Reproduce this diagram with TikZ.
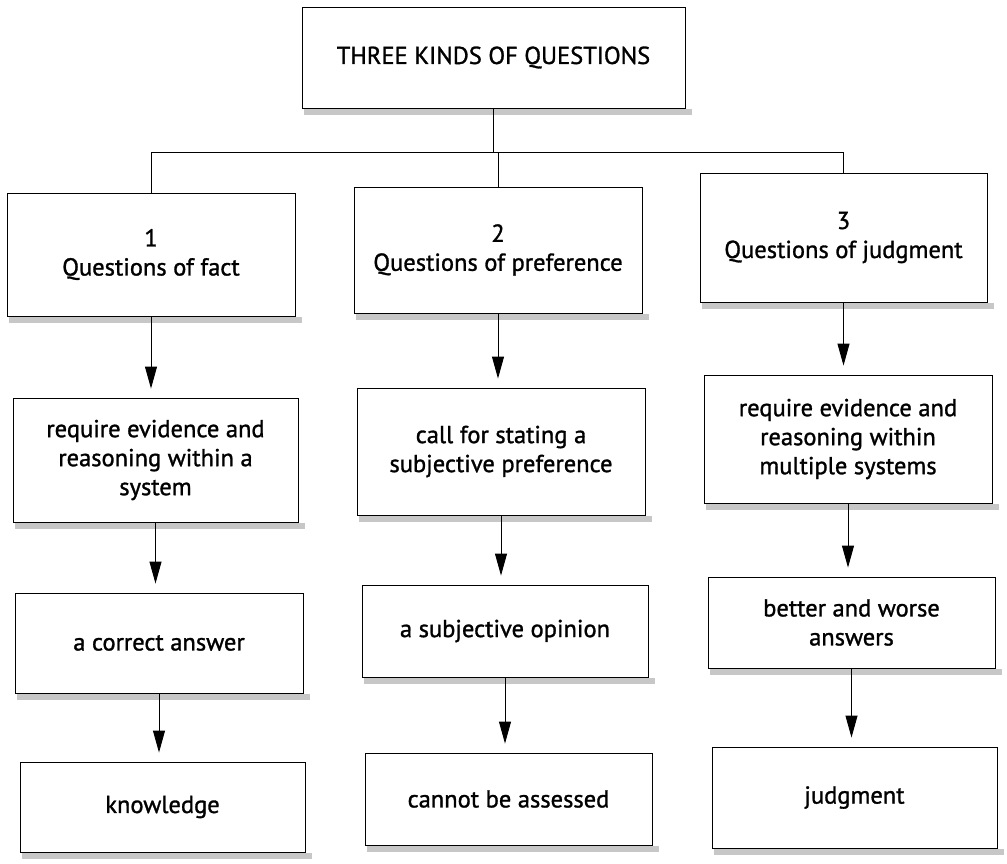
\documentclass[tikz,border=0pt]{standalone}
\usepackage{fontspec}
\setmainfont{PT Sans}[FakeBold=1.2]
\usetikzlibrary{arrows.meta}
\definecolor{shade}{gray}{0.78}
\begin{document}
\begin{tikzpicture}[x=1pt,y=-1pt,
  box/.style={draw=black,line width=0.9pt,fill=white,inner sep=0pt,align=center,
    font=\fontsize{24.5}{29}\selectfont},
  conn/.style={draw=black,line width=0.8pt},
  arr/.style={draw=black,line width=0.9pt,-{Triangle[width=12pt,length=22pt]},shorten >=9pt},
  shadowband/.style={fill=shade}]
\useasboundingbox (0,0) rectangle (1007,863);
\fill[white] (0,0) rectangle (1007,863);

% top box
\node[box,minimum width=383pt,minimum height=101pt,font=\fontsize{24.5}{29}\selectfont] (top) at (493.5,57.5) {THREE KINDS OF QUESTIONS};

% column 1
\node[box,minimum width=288pt,minimum height=123pt] (b11) at (151,254.5) {1\\Questions of fact};
\node[box,minimum width=285pt,minimum height=124pt] (b12) at (155.5,460) {require evidence and\\reasoning within a\\system};
\node[box,minimum width=288pt,minimum height=100pt] (b13) at (159,643) {a correct answer};
\node[box,minimum width=285pt,minimum height=90pt] (b14) at (162.5,807) {knowledge};

% column 2
\node[box,minimum width=288pt,minimum height=126pt] (b21) at (498,250) {2\\Questions of preference};
\node[box,minimum width=288pt,minimum height=127pt] (b22) at (501,451.5) {call for stating a\\subjective preference};
\node[box,minimum width=286pt,minimum height=92pt] (b23) at (505,631) {a subjective opinion};
\node[box,minimum width=287pt,minimum height=92pt] (b24) at (508.5,799) {cannot be assessed};

% column 3
\node[box,minimum width=287pt,minimum height=129pt] (b31) at (843.5,237.5) {3\\Questions of judgment};
\node[box,minimum width=288pt,minimum height=128pt] (b32) at (848,439) {require evidence and\\reasoning within\\multiple systems};
\node[box,minimum width=287pt,minimum height=91pt] (b33) at (851.5,622.5) {better and worse\\answers};
\node[box,minimum width=285pt,minimum height=101pt] (b34) at (854.5,797.5) {judgment};

% shadow bands under the boxes
\foreach \b in {top,b11,b12,b13,b14,b21,b22,b23,b24,b31,b32,b33,b34}{
  \fill[shadowband] ([xshift=2pt,yshift=-1pt]\b.south west) rectangle ([xshift=7pt,yshift=-7pt]\b.south east);
}

% tree connectors
\coordinate (hy) at (0,152);
\coordinate (jM) at (top.south |- hy);
\coordinate (jL) at (b11.north |- hy);
\coordinate (jR) at (b31.north |- hy);
\coordinate (jC) at (b21.north |- hy);
\draw[conn] (top.south) -- (jM);
\draw[conn] (jL) -- (jR);
\draw[conn] (jL) -- (b11.north);
\draw[conn] (jC) -- (b21.north);
\draw[conn] (jR) -- (b31.north);

% arrows
\draw[arr] (b11.south) -- (b11.south |- b12.north);
\draw[arr] (b12.south) -- (b12.south |- b13.north);
\draw[arr] (b13.south) -- (b13.south |- b14.north);
\draw[arr] (b21.south) -- (b21.south |- b22.north);
\draw[arr] (b22.south) -- (b22.south |- b23.north);
\draw[arr] (b23.south) -- (b23.south |- b24.north);
\draw[arr] (b31.south) -- (b31.south |- b32.north);
\draw[arr] (b32.south) -- (b32.south |- b33.north);
\draw[arr] (b33.south) -- (b33.south |- b34.north);
\end{tikzpicture}
\end{document}
